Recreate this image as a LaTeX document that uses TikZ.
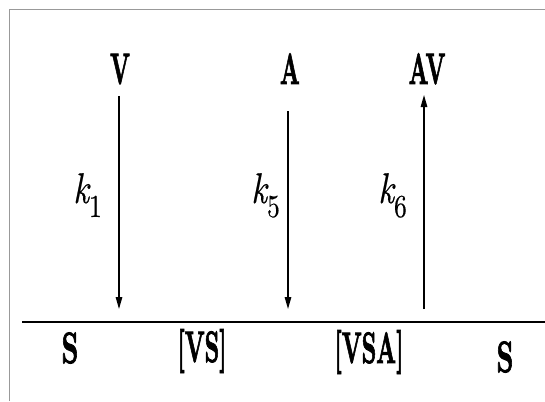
\documentclass[tikz,border=0pt]{standalone}
\usepackage{fontspec}
\usetikzlibrary{arrows.meta}
% heavy roman for species, plain italic for rate constants
\newfontfamily\heavyfont{lmroman10-bold.otf}[FakeBold=2.2]
\newfontfamily\rateitfont{lmroman10-italic.otf}[FakeBold=0.4]
\newfontfamily\ratenumfont{lmroman10-regular.otf}[FakeBold=0.4]
% condensed text
\newcommand\narrowtxt[2][0.52]{\scalebox{#1}[1]{#2}}
\newcommand\rateconst[1]{\narrowtxt[0.8]{{\rateitfont k}\raisebox{-14pt}{\fontsize{32}{32}\ratenumfont #1}}}
\begin{document}
\begin{tikzpicture}[x=1pt,y=-1pt,
  species/.style={inner sep=0pt, font=\fontsize{44}{44}\heavyfont},
  rate/.style={inner sep=0pt, font=\fontsize{43}{43}\selectfont},
  flux/.style={line width=1.3pt, -{Triangle[length=12pt,width=6.5pt]}},
  frame/.style={draw=black!40, line width=1.2pt},
]
\useasboundingbox (0,0) rectangle (545,401);
\fill[white] (0,0) rectangle (545,401);
\draw[frame] (9.5,401) -- (9.5,9.5) -- (545,9.5);

% ligands above the surface
\node[species, anchor=base] (V)  at (120,84) {\narrowtxt{V}};
\node[species, anchor=base] (A)  at (290,84) {\narrowtxt{A}};
\node[species, anchor=base] (AV) at (427,84) {\narrowtxt{AV}};

% surface line
\coordinate (surfL) at (22,322);
\coordinate (surfR) at (545,322);
\draw[line width=2.2pt] (surfL) -- (surfR);

% arrow end points
\coordinate (vtop) at (119,96);
\coordinate (vbot) at (119,309);
\coordinate (atop) at (288,111);
\coordinate (abot) at (288,309);
\coordinate (avtop) at (424,95);
\coordinate (avbot) at (424,309);

\draw[flux] (vtop) -- (vbot);
\draw[flux] (atop) -- (abot);
\draw[flux] (avbot) -- (avtop);

% rate constants
\node[rate, anchor=base east] (k1) at (102,203) {\rateconst{1}};
\node[rate, anchor=base east] (k5) at (280,203) {\rateconst{5}};
\node[rate, anchor=base east] (k6) at (407,203) {\rateconst{6}};

% surface species
\node[species] (S1)  at (70,348)  {\narrowtxt[0.6]{S}};
\node[species] (VS)  at (202,351) {\narrowtxt{[VS]}};
\node[species] (VSA) at (369,352) {\narrowtxt{[VSA]}};
\node[species] (S2)  at (505,357) {\narrowtxt[0.6]{S}};
\end{tikzpicture}
\end{document}
